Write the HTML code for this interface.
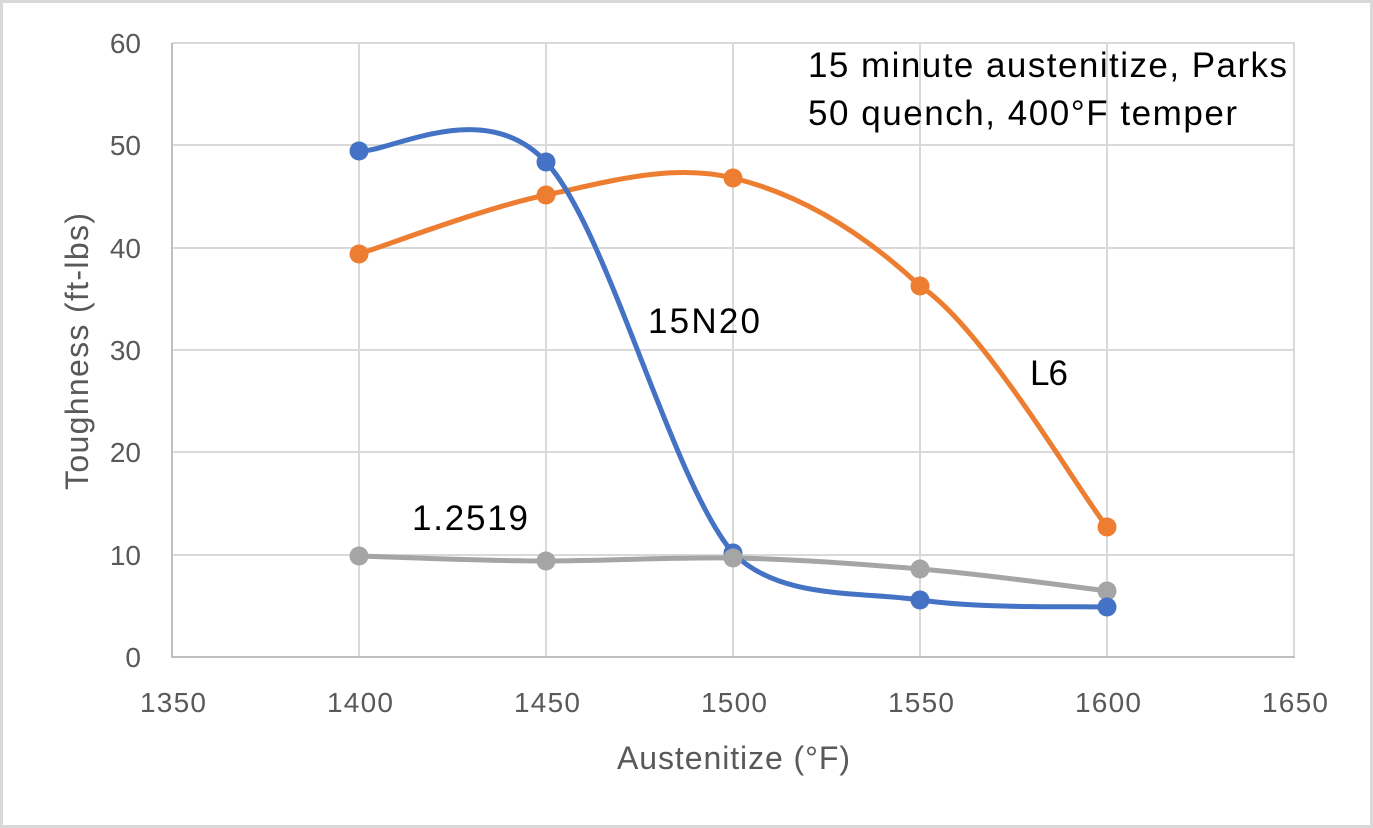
<!DOCTYPE html>
<html><head><style>body{margin:0;background:#fff}svg{display:block}</style></head><body>
<svg width="1373" height="828" xmlns="http://www.w3.org/2000/svg" font-family="Liberation Sans, sans-serif">
<rect x="1.5" y="1.5" width="1370" height="825" fill="#fff" stroke="#d9d9d9" stroke-width="3"/>
<g stroke="#d9d9d9" stroke-width="2">
<line x1="172" y1="43" x2="1295" y2="43"/><line x1="172" y1="145" x2="1295" y2="145"/><line x1="172" y1="248" x2="1295" y2="248"/><line x1="172" y1="350" x2="1295" y2="350"/><line x1="172" y1="452" x2="1295" y2="452"/><line x1="172" y1="555" x2="1295" y2="555"/>
<line x1="359" y1="43" x2="359" y2="657"/><line x1="546" y1="43" x2="546" y2="657"/><line x1="733" y1="43" x2="733" y2="657"/><line x1="920" y1="43" x2="920" y2="657"/><line x1="1107" y1="43" x2="1107" y2="657"/><line x1="1294" y1="43" x2="1294" y2="657"/>
</g>
<g stroke="#bfbfbf" stroke-width="2"><line x1="172" y1="43" x2="172" y2="658"/><line x1="172" y1="657" x2="1295" y2="657"/></g>
<g fill="#595959" font-size="28" text-anchor="end">
<text x="141" y="53">60</text><text x="141" y="155">50</text><text x="141" y="258">40</text><text x="141" y="360">30</text><text x="141" y="462">20</text><text x="141" y="565">10</text><text x="141" y="667">0</text>
</g>
<g fill="#595959" font-size="28">
<text x="140" y="712" textLength="66">1350</text><text x="327" y="712" textLength="66">1400</text><text x="514" y="712" textLength="66">1450</text><text x="701" y="712" textLength="66">1500</text><text x="888" y="712" textLength="66">1550</text><text x="1075" y="712" textLength="66">1600</text><text x="1262" y="712" textLength="66">1650</text>
<text x="617" y="769" font-size="32" textLength="233">Austenitize (°F)</text>
<text transform="translate(88,490) rotate(-90)" font-size="32" textLength="277">Toughness (ft-lbs)</text>
</g>
<g fill="none" stroke-width="5" stroke-linecap="round">
<path stroke="#a5a5a5" d="M359,556 C390,557 484,561 546,561 C608,561 671,557 733,558 C795,559 858,564 920,569 C982,574 1076,587 1107,591"/>
<path stroke="#ed7d31" d="M359,254 C390,244 484,208 546,195 C608,182 671,163 733,178 C795,193 858,228 920,286 C982,326 1076,487 1107,527"/>
<path stroke="#4472c4" d="M359,151 C390,153 484,95 546,162 C608,229 671,480 733,553 C780,600 858,591 920,600 C982,609 1076,606 1107,607"/>
</g>
<g fill="#a5a5a5"><circle cx="359" cy="556" r="9.5"/><circle cx="546" cy="561" r="9.5"/><circle cx="920" cy="569" r="9.5"/><circle cx="1107" cy="591" r="9.5"/></g>
<g fill="#ed7d31"><circle cx="359" cy="254" r="9.5"/><circle cx="546" cy="195" r="9.5"/><circle cx="733" cy="178" r="9.5"/><circle cx="920" cy="286" r="9.5"/><circle cx="1107" cy="527" r="9.5"/></g>
<g fill="#4472c4"><circle cx="359" cy="151" r="9.5"/><circle cx="546" cy="162" r="9.5"/><circle cx="733" cy="553" r="9.5"/><circle cx="920" cy="600" r="9.5"/><circle cx="1107" cy="607" r="9.5"/></g>
<circle cx="733" cy="558" r="9.5" fill="#a5a5a5"/>
<g fill="#000" font-size="35">
<text x="808" y="77" textLength="479">15 minute austenitize, Parks</text>
<text x="808" y="125" textLength="429">50 quench, 400°F temper</text>
<text x="648" y="333" textLength="112">15N20</text>
<text x="1030" y="385" textLength="38">L6</text>
<text x="412" y="530" textLength="116">1.2519</text>
</g>
</svg>
</body></html>
